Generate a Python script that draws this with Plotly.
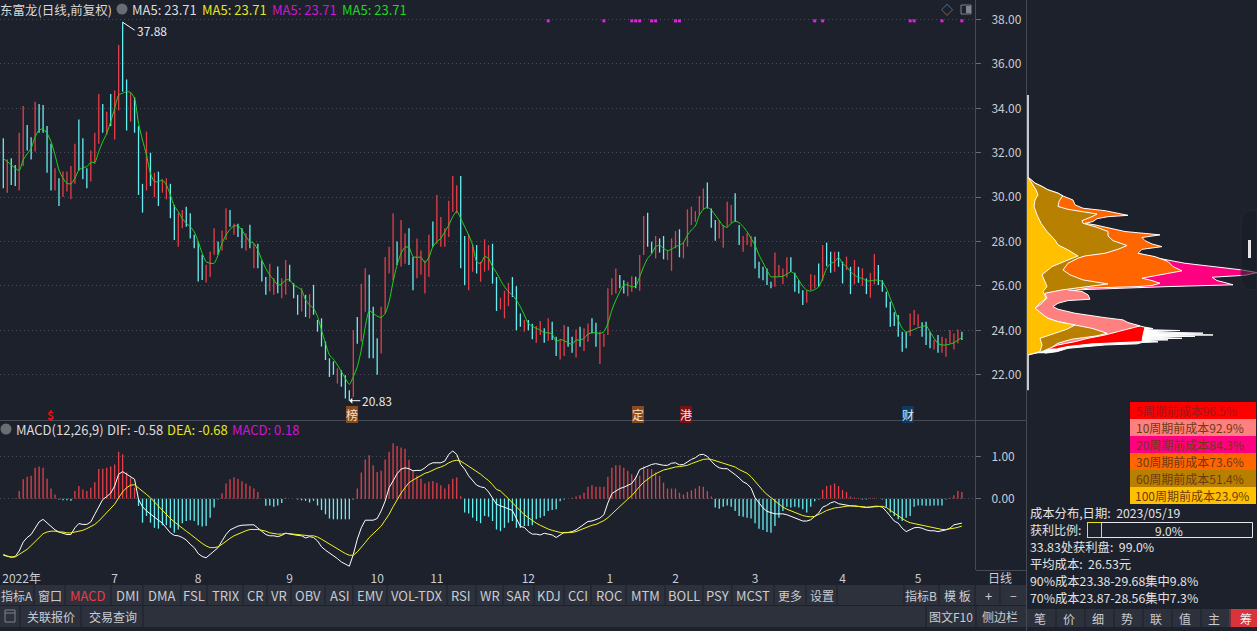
import plotly.graph_objects as go

W = 1257
H = 631
BG = '#1c212c'
BAR = '#2d313c'
RED = '#e63e48'
CYAN = '#66eef0'
GREY = '#c9ccd2'
FONT = 'Noto Sans CJK SC'

# daily bars
highs = [32.65, 31.7, 31.75, 31.45, 32.9, 34.1, 33.25, 32.7, 34.3, 34.2,
         34.15, 33.2, 32.4, 31.3, 30.85, 31.15, 31.15, 31.4, 32.4, 33.5,
         32.65, 31.3, 32.1, 32.9, 34.65, 34.2, 33.85, 34.65, 34.8, 36.85,
         37.88, 35.3, 34.7, 34.5, 33.2, 30.6, 32.95, 32, 31.1, 31.15,
         30.8, 30.85, 30.6, 29.65, 29.27, 29.42, 29.57, 29.27, 28.3, 28,
         27.4, 26.95, 27.55, 28.6, 28, 28.5, 29.5, 29.42, 28.8, 28.8,
         28.6, 28.37, 28.75, 27.9, 27.9, 27.15, 26.4, 27, 26.35, 26.87,
         26.35, 27.17, 26.95, 26.12, 25.6, 25.9, 25.6, 25.63, 26.05, 24.47,
         24.54, 23.5, 22.74, 22.6, 22.29, 22.2, 21.98, 21.3, 24, 24.6,
         26.1, 26.8, 26.5, 25.06, 23.64, 25.06, 27.3, 27.77, 29.27, 28,
         28.97, 28.37, 28.6, 27.3, 28.14, 27.6, 27.15, 28.3, 28.9, 30.1,
         29.1, 28.6, 29.84, 30.95, 30.54, 30.95, 28.25, 28.3, 27.84, 27.84,
         27.09, 28.1, 27.84, 27.9, 26.4, 25.47, 25.78, 26.14, 26.4, 25.99,
         24.76, 24.46, 24.46, 24.3, 24.19, 24.42, 24.09, 24.54, 24.39, 23.71,
         23.56, 24.24, 24.16, 23.71, 24.04, 24.16, 24.09, 24.31, 24.54, 24.34,
         23.94, 23.86, 25.89, 26.34, 26.79, 26.49, 26.26, 26.19, 26.44, 26.41,
         27.39, 29.15, 29.3, 27.99, 28.25, 28.14, 28.25, 27.62, 28.14, 28.47,
         28.55, 27.99, 29.45, 29.57, 29.37, 30.05, 30.39, 30.66, 29.49, 28.97,
         28.97, 28.74, 29.79, 29.64, 30.17, 28.74, 28.25, 28.37, 28.25, 28.22,
         27.09, 26.86, 26.79, 26.19, 27.5, 26.94, 26.79, 27.29, 27.29, 26.59,
         26.26, 25.81, 25.81, 26.53, 26.49, 27.01, 27.84, 27.95, 27.54, 27.54,
         27.54, 27.09, 27.32, 26.86, 27.17, 26.86, 26.79, 26.34, 26.59, 27.44,
         26.94, 26.26, 25.74, 25.29, 24.81, 24.69, 23.94, 23.94, 24.76, 24.91,
         24.72, 24.36, 24.39, 23.94, 23.56, 23.79, 23.71, 23.64, 24.01, 23.86,
         24.04, 23.94]
lows = [30.4, 30.2, 30.55, 30.5, 30.3, 31.4, 32.1, 31.7, 32.05, 32.9,
        32.9, 31.1, 30.3, 30.3, 29.6, 30, 30.25, 29.9, 30.6, 31.2,
        30.8, 30.4, 30.7, 31.5, 32.4, 32.9, 32.8, 33.2, 32.6, 33.9,
        34.75, 33, 33.4, 32.9, 30.1, 29.3, 30.3, 30.5, 30, 29.6,
        30.2, 29.9, 29.05, 28.07, 27.77, 28.6, 28.67, 28.14, 27.7, 26.2,
        26.27, 26.15, 26.4, 27.4, 27.4, 27.6, 28.07, 28.67, 28.3, 28.2,
        27.7, 27.6, 27.7, 26.8, 26.8, 26.2, 25.6, 25.75, 25.6, 25.67,
        25.45, 25.6, 26.2, 25.45, 24.7, 24.85, 24.6, 24.53, 24.7, 23.94,
        23.27, 22.66, 21.9, 22, 21.6, 21.46, 20.93, 20.83, 21, 23.4,
        23.5, 24.84, 22.74, 22.74, 22, 22.96, 24.76, 26.56, 26.26, 26.94,
        26.87, 27, 26.94, 25.8, 26.34, 26.5, 25.66, 26.4, 27.77, 27.9,
        27.77, 27.77, 28.2, 29.34, 29.27, 26.8, 26.04, 25.8, 26.64, 26.56,
        26.19, 26.64, 26.7, 26.1, 24.87, 24.94, 24.54, 25.09, 25.5, 24,
        24.16, 23.94, 24, 23.6, 23.44, 23.79, 23.44, 23.53, 23.56, 22.84,
        22.69, 22.84, 23.26, 22.99, 22.78, 23.26, 23.07, 23.49, 23.86, 23.26,
        22.48, 23.26, 23.79, 25.59, 25.66, 25.89, 25.66, 25.54, 25.74, 25.89,
        25.78, 27.39, 27.77, 27.47, 27.24, 27.5, 27.2, 27.17, 26.68, 27.69,
        27.29, 27.24, 27.77, 28.74, 28.89, 29.19, 29.42, 29.49, 28.62, 28.04,
        28.14, 27.72, 28.67, 28.85, 28.89, 27.84, 27.54, 27.84, 27.77, 26.79,
        26.34, 26.26, 26.04, 25.89, 25.96, 26.41, 26.08, 26.38, 26.64, 25.74,
        25.66, 25.14, 25.24, 25.81, 25.89, 25.96, 26.23, 26.89, 26.59, 26.64,
        26.86, 26.11, 26.71, 25.63, 26.07, 26.14, 25.99, 25.63, 25.47, 26.07,
        26.04, 25.74, 25.03, 24.16, 24.19, 23.71, 23.04, 23.19, 23.74, 24.24,
        24.16, 23.71, 23.34, 23.19, 23.14, 22.99, 22.99, 22.81, 23.41, 23.14,
        23.41, 23.56]
up = [0, 1, 0, 0, 1, 1, 0, 0, 1, 0,
      0, 0, 0, 1, 0, 1, 1, 1, 1, 0,
      0, 0, 1, 1, 1, 0, 1, 0, 1, 1,
      0, 0, 1, 0, 0, 0, 1, 0, 1, 0,
      1, 1, 0, 0, 1, 1, 0, 0, 0, 0,
      0, 1, 1, 1, 0, 1, 1, 0, 1, 0,
      0, 1, 0, 1, 0, 0, 0, 1, 1, 0,
      1, 1, 0, 0, 0, 1, 0, 1, 0, 0,
      0, 0, 0, 0, 1, 0, 0, 0, 1, 0,
      1, 1, 0, 0, 0, 1, 1, 1, 1, 0,
      1, 1, 0, 0, 1, 1, 1, 1, 0, 1,
      1, 1, 1, 1, 1, 0, 0, 1, 1, 0,
      1, 1, 1, 0, 0, 1, 1, 1, 0, 0,
      0, 1, 0, 0, 1, 1, 0, 1, 0, 0,
      1, 1, 0, 0, 1, 0, 1, 1, 0, 0,
      1, 1, 1, 1, 1, 0, 0, 1, 1, 0,
      1, 1, 0, 0, 1, 0, 0, 1, 1, 1,
      0, 1, 1, 1, 1, 1, 1, 0, 0, 0,
      1, 1, 1, 1, 0, 0, 1, 1, 1, 0,
      0, 0, 0, 0, 1, 1, 1, 1, 0, 0,
      0, 0, 1, 1, 1, 0, 1, 0, 0, 1,
      0, 0, 1, 0, 1, 0, 1, 0, 1, 1,
      0, 0, 0, 0, 0, 0, 0, 0, 1, 1,
      1, 0, 0, 0, 1, 0, 1, 1, 1, 1,
      1, 0]
ma5 = [31.75, 31.6, 31.45, 31.3, 31.2, 31.67, 31.95, 32.2, 32.72, 33.02,
       33.07, 32.87, 32.5, 31.9, 31.22, 30.85, 30.62, 30.6, 30.85, 31.22,
       31.33, 31.37, 31.57, 31.57, 32.05, 32.5, 32.87, 33.4, 34, 34.6,
       34.68, 34.75, 34.72, 34.45, 33.32, 32.57, 31.9, 31.07, 30.7, 30.7,
       30.77, 30.55, 30.1, 29.6, 29.34, 29.04, 28.82, 28.67, 28.44, 28,
       27.47, 27.09, 27.02, 27.02, 27.39, 27.92, 28.29, 28.55, 28.7, 28.7,
       28.52, 28.22, 28, 27.92, 27.62, 27.17, 26.79, 26.49, 26.27, 26.04,
       26.09, 26.27, 26.27, 26.04, 25.94, 25.82, 25.37, 25.14, 24.99, 24.62,
       24.01, 23.41, 22.89, 22.7, 22.44, 22.14, 21.83, 21.56, 21.91, 22.36,
       23.11, 24.16, 24.88, 24.76, 24.64, 24.58, 24.76, 25.29, 26.19, 26.94,
       27.47, 27.74, 27.74, 27.32, 27.29, 27.29, 27.05, 27.29, 27.77, 27.99,
       28.14, 28.44, 28.74, 29.12, 29.37, 29.04, 28.67, 28.29, 27.84, 27.09,
       27.01, 27.32, 27.24, 26.87, 26.6, 26.26, 25.96, 25.74, 25.59, 25.36,
       25.06, 24.69, 24.31, 24.19, 24.09, 24.01, 23.89, 23.89, 23.83, 23.49,
       23.59, 23.53, 23.44, 23.37, 23.56, 23.56, 23.64, 23.83, 23.89, 23.89,
       23.86, 23.94, 24.31, 24.91, 25.36, 25.74, 26.04, 26.04, 25.96, 25.99,
       26.41, 26.87, 27.24, 27.45, 27.77, 27.84, 27.69, 27.59, 27.65, 27.77,
       27.84, 27.95, 28.29, 28.52, 28.7, 29.19, 29.45, 29.54, 29.42, 29.19,
       28.94, 28.7, 28.64, 28.82, 28.92, 28.85, 28.67, 28.44, 28.14, 27.84,
       27.39, 27.05, 26.71, 26.41, 26.41, 26.41, 26.44, 26.53, 26.64, 26.53,
       26.26, 25.99, 25.81, 25.77, 25.84, 25.96, 26.34, 26.79, 27.01, 27.09,
       27.29, 27.01, 26.87, 26.64, 26.49, 26.38, 26.34, 26.23, 26.23, 26.26,
       26.26, 26.19, 25.89, 25.44, 24.99, 24.46, 24.09, 23.91, 23.97, 24.04,
       24.12, 24.16, 24.21, 23.94, 23.64, 23.41, 23.34, 23.34, 23.38, 23.44,
       23.56, 23.68]

# MACD panel
macd = [0, 0, 0, 0.01, 0.18, 0.46, 0.52, 0.54, 0.73, 0.76,
        0.73, 0.47, 0.24, 0.1, -0.02, -0.04, -0.04, -0.05, 0.18, 0.3,
        0.22, 0.18, 0.26, 0.39, 0.7, 0.71, 0.73, 0.76, 0.81, 1.11,
        1.05, 0.62, 0.5, 0.26, -0.17, -0.57, -0.41, -0.57, -0.69, -0.71,
        -0.63, -0.63, -0.69, -0.81, -0.73, -0.58, -0.53, -0.51, -0.53, -0.63,
        -0.66, -0.65, -0.45, -0.21, -0.02, 0.13, 0.36, 0.46, 0.51, 0.47,
        0.41, 0.36, 0.3, 0.24, 0.16, 0, -0.17, -0.16, -0.19, -0.16,
        -0.1, 0.02, 0, 0, -0.02, -0.04, -0.05, -0.09, -0.05, -0.16,
        -0.27, -0.37, -0.47, -0.49, -0.49, -0.49, -0.49, -0.49, -0.02, 0.24,
        0.62, 0.93, 1.03, 0.79, 0.63, 0.66, 0.93, 1.11, 1.31, 1.25,
        1.21, 1.18, 0.92, 0.66, 0.55, 0.47, 0.36, 0.4, 0.42, 0.38,
        0.32, 0.24, 0.34, 0.47, 0.5, 0.06, -0.33, -0.35, -0.45, -0.53,
        -0.58, -0.41, -0.43, -0.53, -0.73, -0.77, -0.69, -0.57, -0.53, -0.69,
        -0.69, -0.65, -0.65, -0.63, -0.49, -0.45, -0.41, -0.29, -0.27, -0.25,
        -0.06, -0.02, 0, 0.02, 0.05, 0.08, 0.14, 0.28, 0.32, 0.28,
        0.28, 0.28, 0.52, 0.73, 0.79, 0.79, 0.73, 0.66, 0.58, 0.52,
        0.54, 0.77, 0.71, 0.7, 0.62, 0.54, 0.38, 0.24, 0.24, 0.24,
        0.14, 0.1, 0.16, 0.2, 0.24, 0.3, 0.28, 0.18, 0.05, -0.21,
        -0.24, -0.19, -0.16, -0.19, -0.29, -0.41, -0.43, -0.45, -0.47, -0.58,
        -0.71, -0.74, -0.79, -0.81, -0.65, -0.45, -0.29, -0.19, -0.21, -0.19,
        -0.21, -0.25, -0.33, -0.19, -0.06, -0.02, 0.21, 0.3, 0.32, 0.36,
        0.3, 0.21, 0.16, 0.05, 0.03, 0.02, -0.02, -0.02, 0.02, 0.02,
        0, -0.02, -0.21, -0.33, -0.41, -0.49, -0.53, -0.45, -0.41, -0.19,
        -0.16, -0.16, -0.17, -0.17, -0.16, -0.16, -0.16, -0.02, 0.02, 0.08,
        0.18, 0.16]
dif = [-1.34, -1.37, -1.39, -1.37, -1.24, -1.03, -0.92, -0.85, -0.69, -0.55,
       -0.49, -0.57, -0.65, -0.74, -0.79, -0.82, -0.85, -0.85, -0.69, -0.59,
       -0.61, -0.61, -0.55, -0.37, -0.19, -0.02, 0.05, 0.13, 0.3, 0.58,
       0.64, 0.58, 0.54, 0.46, -0.02, -0.19, -0.29, -0.37, -0.45, -0.51,
       -0.58, -0.69, -0.81, -0.87, -0.88, -0.92, -0.98, -1.08, -1.16, -1.3,
       -1.37, -1.4, -1.32, -1.24, -1.16, -1.0, -0.85, -0.74, -0.69, -0.65,
       -0.63, -0.62, -0.62, -0.62, -0.7, -0.79, -0.85, -0.88, -0.88, -0.9,
       -0.87, -0.82, -0.84, -0.85, -0.87, -0.88, -0.93, -0.9, -0.92, -1.0,
       -1.14, -1.22, -1.28, -1.34, -1.42, -1.5, -1.55, -1.6, -1.32, -0.96,
       -0.69, -0.51, -0.51, -0.51, -0.47, -0.29, -0.06, 0.26, 0.42, 0.59,
       0.7, 0.73, 0.71, 0.66, 0.67, 0.67, 0.73, 0.81, 0.85, 0.85,
       0.85, 0.89, 1.05, 1.13, 1.05, 0.81, 0.7, 0.54, 0.44, 0.32,
       0.28, 0.26, 0.16, 0.02, -0.13, -0.17, -0.2, -0.24, -0.28, -0.46,
       -0.66, -0.68, -0.78, -0.84, -0.84, -0.86, -0.82, -0.84, -0.86, -0.92,
       -0.86, -0.8, -0.8, -0.78, -0.74, -0.68, -0.6, -0.54, -0.53, -0.5,
       -0.46, -0.38, -0.1, 0.12, 0.19, 0.24, 0.27, 0.31, 0.36, 0.49,
       0.69, 0.73, 0.77, 0.81, 0.83, 0.81, 0.79, 0.79, 0.84, 0.85,
       0.8, 0.81, 0.88, 0.93, 0.97, 1.04, 1.05, 1.0, 0.89, 0.79,
       0.73, 0.71, 0.71, 0.65, 0.57, 0.49, 0.4, 0.35, 0.25, 0.02,
       -0.1, -0.22, -0.3, -0.33, -0.36, -0.36, -0.36, -0.38, -0.42, -0.46,
       -0.5, -0.53, -0.53, -0.5, -0.42, -0.34, -0.2, -0.16, -0.1, -0.07,
       -0.12, -0.14, -0.16, -0.17, -0.17, -0.18, -0.2, -0.21, -0.2, -0.18,
       -0.18, -0.2, -0.3, -0.42, -0.53, -0.58, -0.7, -0.78, -0.73, -0.69,
       -0.68, -0.7, -0.74, -0.76, -0.76, -0.78, -0.76, -0.74, -0.7, -0.62,
       -0.6, -0.58]
dea = [-1.32, -1.36, -1.38, -1.38, -1.32, -1.26, -1.2, -1.11, -1.02, -0.92,
       -0.83, -0.79, -0.77, -0.77, -0.79, -0.79, -0.81, -0.81, -0.79, -0.78,
       -0.75, -0.71, -0.66, -0.61, -0.53, -0.43, -0.33, -0.24, -0.13, 0.02,
       0.16, 0.26, 0.32, 0.33, 0.26, 0.18, 0.1, 0.02, -0.08, -0.16,
       -0.27, -0.37, -0.47, -0.55, -0.63, -0.71, -0.77, -0.84, -0.92, -0.99,
       -1.06, -1.12, -1.16, -1.16, -1.14, -1.08, -1.0, -0.94, -0.88, -0.84,
       -0.79, -0.76, -0.73, -0.73, -0.73, -0.75, -0.77, -0.81, -0.83, -0.84,
       -0.84, -0.82, -0.83, -0.84, -0.85, -0.86, -0.88, -0.88, -0.88, -0.91,
       -0.96, -1.02, -1.08, -1.14, -1.2, -1.26, -1.3, -1.34, -1.34, -1.26,
       -1.16, -1.04, -0.92, -0.83, -0.75, -0.65, -0.51, -0.37, -0.19, -0.02,
       0.13, 0.26, 0.38, 0.44, 0.5, 0.55, 0.6, 0.63, 0.68, 0.72,
       0.75, 0.79, 0.85, 0.89, 0.91, 0.89, 0.83, 0.77, 0.71, 0.66,
       0.58, 0.5, 0.43, 0.33, 0.22, 0.18, 0.1, 0, -0.1, -0.2,
       -0.3, -0.38, -0.45, -0.52, -0.58, -0.63, -0.68, -0.72, -0.75, -0.78,
       -0.8, -0.81, -0.81, -0.8, -0.78, -0.74, -0.7, -0.66, -0.63, -0.61,
       -0.57, -0.52, -0.45, -0.36, -0.26, -0.17, -0.09, -0.01, 0.07, 0.19,
       0.29, 0.39, 0.47, 0.53, 0.59, 0.64, 0.68, 0.7, 0.73, 0.75,
       0.76, 0.77, 0.79, 0.83, 0.87, 0.9, 0.93, 0.94, 0.93, 0.9,
       0.87, 0.84, 0.81, 0.79, 0.75, 0.69, 0.65, 0.6, 0.52, 0.41,
       0.29, 0.19, 0.1, 0.02, -0.06, -0.14, -0.2, -0.25, -0.29, -0.33,
       -0.37, -0.4, -0.42, -0.43, -0.42, -0.38, -0.33, -0.28, -0.25, -0.22,
       -0.21, -0.19, -0.18, -0.17, -0.18, -0.18, -0.19, -0.2, -0.2, -0.19,
       -0.18, -0.18, -0.21, -0.28, -0.34, -0.41, -0.47, -0.53, -0.57, -0.59,
       -0.61, -0.63, -0.66, -0.68, -0.7, -0.72, -0.73, -0.73, -0.72, -0.7,
       -0.68, -0.65]

for series in (highs, lows, up, ma5, macd, dif, dea):
    assert len(series) == 242, len(series)

idx = list(range(242))
signal_days = [137, 151, 158, 159, 160, 163, 164, 169, 170, 204, 206, 228, 229, 236, 241]
signal_level = [37.94] * len(signal_days)
month_days = [4.6, 28, 49, 72, 94, 109, 132, 152.5, 169, 189, 211, 230]
month_names = ['2022年', '7', '8', '9', '10', '11', '12', '1', '2', '3', '4', '5']
price_ticks = [22, 24, 26, 28, 30, 32, 34, 36, 38]

# cost distribution, price against chip width
white_p = [24.14, 24.08, 24.03, 23.99, 23.94, 23.87, 23.84, 23.79, 23.76, 23.73, 23.7, 23.64, 23.61, 23.57, 23.54, 23.48, 23.45, 23.39, 23.34, 23.27, 23.19, 23.04, 22.97]
white_w = [118, 126, 118, 153, 120, 176, 121, 186, 121, 168, 121, 155, 120, 141, 118, 131, 115, 110, 78, 58, 41, 30, 18]
red_p = [24.32, 24.14, 23.79, 23.49, 23.39, 23.27, 23.18]
red_w = [101, 118, 116, 115, 65, 41, 31]
pink_p = [25.82, 25.75, 25.6, 25.4, 25.34, 25.22, 25.07, 24.95, 24.77, 24.65, 24.57, 24.47, 24.35, 24.2, 23.94, 23.79, 23.64, 23.49, 23.34, 23.24]
pink_w = [41, 55, 61, 63, 41, 31, 26, 31, 48, 65, 78, 96, 101, 113, 91, 78, 61, 48, 31, 25]
magenta_p = [27.47, 27.25, 27.02, 26.87, 26.72, 26.6, 26.48, 26.39, 26.24, 26.15, 26.05, 25.97, 25.91, 25.87, 25.82]
magenta_w = [111, 131, 158, 188, 215, 230, 218, 185, 190, 198, 206, 141, 98, 65, 48]
orange_p = [30.9, 30.63, 30.48, 30.33, 30.18, 30.05, 29.87, 29.65, 29.5, 29.39, 29.27, 29.18, 29.12, 29.03, 28.9, 28.82, 28.75, 28.64, 28.45, 28.3, 28.18, 28.04, 27.89, 27.77, 27.65, 27.47, 27.32, 27.1, 26.87, 26.68, 26.5, 26.35, 26.24, 26.12, 26.02, 25.97, 25.9, 25.82, 25.75, 25.6, 25.45, 25.3]
orange_w = [1, 8, 15, 21, 31, 36, 46, 48, 56, 78, 91, 101, 81, 70, 66, 58, 68, 78, 98, 133, 115, 118, 125, 135, 115, 111, 128, 141, 146, 155, 131, 115, 125, 133, 125, 111, 61, 48, 41, 31, 21, 18]
brown_p = [30.9, 30.63, 30.48, 30.33, 30.18, 30.05, 30.03, 29.8, 29.58, 29.45, 29.35, 29.24, 29.12, 28.94, 28.82, 28.64, 28.45, 28.25, 28.04, 27.92, 27.82, 27.65, 27.47, 27.35, 27.25, 27.02, 26.72, 26.5, 26.27, 26.09, 25.97, 25.82, 25.67, 25.45, 25.22, 25.0, 24.77, 24.59, 24.39, 24.24, 24.09, 23.87, 23.75, 23.6, 23.42, 23.24, 23.04, 22.89]
brown_w = [1, 8, 15, 21, 31, 36, 35, 32, 31, 41, 55, 70, 65, 55, 56, 70, 81, 81, 86, 93, 100, 91, 78, 58, 51, 41, 36, 43, 56, 81, 61, 35, 18, 20, 15, 8, 13, 18, 31, 48, 65, 80, 70, 45, 31, 25, 15, 1]
gold_p = [30.9, 30.63, 30.33, 30.1, 29.87, 29.58, 29.2, 28.82, 28.45, 28.07, 27.85, 27.62, 27.35, 27.17, 26.87, 26.5, 26.2, 25.97, 25.75, 25.45, 25.22, 25.0, 24.74, 24.54, 24.39, 24.24, 24.05, 23.84, 23.64, 23.34, 23.04, 22.89]
gold_w = [1, 5, 9, 11, 8, 7, 10, 14, 20, 28, 31, 41, 51, 41, 25, 15, 18, 20, 16, 19, 13, 8, 15, 21, 31, 48, 40, 26, 13, 15, 13, 1]
thin_p = [34.6, 31.0, 22.9, 21.3]
thin_w = [1, 1, 1, 1]

legend_rows = ['5周期前成本96.5%', '10周期前成本92.9%', '20周期前成本84.3%',
               '30周期前成本73.6%', '60周期前成本51.4%', '100周期前成本23.9%']
legend_colors = ['#fe0000', '#ff8080', '#ff0080', '#ff6600', '#b88000', '#ffc000']
info_rows = ['成本分布,日期:  2023/05/19', '', '33.83处获利盘:  99.0%', '平均成本:  26.53元',
             '90%成本23.38-29.68集中9.8%', '70%成本23.87-28.56集中7.3%']

tool_names = ['指标A', '窗口', 'MACD', 'DMI', 'DMA', 'FSL', 'TRIX', 'CR', 'VR', 'OBV', 'ASI', 'EMV',
              'VOL-TDX', 'RSI', 'WR', 'SAR', 'KDJ', 'CCI', 'ROC', 'MTM', 'BOLL', 'PSY', 'MCST', '更多',
              '设置', '指标B', '模 板', '+', '−']
tool_centers = [17, 50, 88, 127, 162, 194, 226, 255, 279, 308, 339, 370,
                417, 461, 490, 518, 549, 578, 609, 645, 684, 717, 753, 790,
                822, 921, 957, 988, 1013]
tool_seps = [34, 65, 111, 143, 181, 207, 243, 267, 291, 325, 353, 387, 447, 476, 503, 534, 564,
             591, 626, 665, 703, 732, 774, 806, 837, 904, 939, 975, 1000]
side_tabs = ['笔', '价', '细', '势', '联', '值', '主', '筹']

annotations = []
shapes = []


def px(x):
    return x / W


def py(y):
    return 1 - y / H


def label(x, y, text, color=GREY, size=12, anchor='left', **kwargs):
    annotations.append(dict(xref='paper', yref='paper', x=px(x), y=py(y), text=text, showarrow=False,
                            xanchor=anchor, yanchor='middle', borderpad=0, borderwidth=0,
                            font=dict(family=FONT, size=size, color=color), **kwargs))


def box(x0, y0, x1, y1, fill=None, line=None, layer='below'):
    shapes.append(dict(type='rect', xref='paper', yref='paper', x0=px(x0), x1=px(x1), y0=py(y0), y1=py(y1),
                       fillcolor=fill if fill else 'rgba(0,0,0,0)',
                       line=dict(color=line if line else 'rgba(0,0,0,0)', width=1), layer=layer))


def rule(x0, y0, x1, y1, color='#454a55'):
    shapes.append(dict(type='line', xref='paper', yref='paper', x0=px(x0), x1=px(x1), y0=py(y0), y1=py(y1),
                       line=dict(color=color, width=1), layer='below'))


def sticks(days, tops, bottoms):
    # one thin vertical stroke per day, broken by gaps
    xs, ys = [], []
    for d, t, b in zip(days, tops, bottoms):
        xs += [d, d, None]
        ys += [b, t, None]
    return xs, ys


fig = go.Figure()

# main price panel
for flag, color in [(1, RED), (0, CYAN)]:
    picked = [i for i in idx if up[i] == flag]
    xs, ys = sticks(picked, [highs[i] for i in picked], [lows[i] for i in picked])
    fig.add_trace(go.Scatter(x=xs, y=ys, mode='lines', line=dict(color=color, width=1.3), xaxis='x', yaxis='y'))
fig.add_trace(go.Scatter(x=idx, y=ma5, mode='lines', line=dict(color='#1fd81f', width=1, shape='spline', smoothing=0.6),
                         xaxis='x', yaxis='y'))
fig.add_trace(go.Scatter(x=signal_days, y=signal_level, mode='markers',
                         marker=dict(symbol='square', size=3, color='#e81ee8', line=dict(width=0)),
                         xaxis='x', yaxis='y'))

# macd panel
for color, picked in [(RED, [i for i in idx if macd[i] > 0]), (CYAN, [i for i in idx if macd[i] <= 0])]:
    xs, ys = sticks(picked, [macd[i] for i in picked], [0] * len(picked))
    fig.add_trace(go.Scatter(x=xs, y=ys, mode='lines', line=dict(color=color, width=1.3), xaxis='x2', yaxis='y2'))
fig.add_trace(go.Scatter(x=idx, y=dif, mode='lines', line=dict(color='#ffffff', width=1), xaxis='x2', yaxis='y2'))
fig.add_trace(go.Scatter(x=idx, y=dea, mode='lines', line=dict(color='#f4f41e', width=1), xaxis='x2', yaxis='y2'))

# chip layers, outermost first so the inner ones sit on top
fig.add_trace(go.Scatter(x=thin_w, y=thin_p, mode='lines', line=dict(color='#ffffff', width=1.5), xaxis='x3', yaxis='y3'))
layers = [(white_w, white_p, '#ffffff'), (red_w, red_p, legend_colors[0]), (magenta_w, magenta_p, legend_colors[2]),
          (orange_w, orange_p, legend_colors[3]), (pink_w, pink_p, legend_colors[1]),
          (brown_w, brown_p, legend_colors[4]), (gold_w, gold_p, legend_colors[5])]
for w, p, color in layers:
    fig.add_trace(go.Scatter(x=w, y=p, mode='lines', fill='tozerox', fillcolor=color,
                             line=dict(color='#ffffff', width=1), xaxis='x3', yaxis='y3'))

# high and low flags
flag_font = dict(family=FONT, size=12, color='#e8e8e8')
annotations.append(dict(xref='x', yref='y', x=30, y=37.88, text='37.88', showarrow=True, arrowhead=0, arrowwidth=1,
                        arrowcolor='#ffffff', ax=12, ay=8, xanchor='left', font=flag_font))
annotations.append(dict(xref='x', yref='y', x=87, y=20.83, text='20.83', showarrow=True, arrowhead=1, arrowwidth=1,
                        arrowcolor='#ffffff', ax=11, ay=0, xanchor='left', font=flag_font))

# headers
label(0, 9, '东富龙(日线,前复权)', '#d8d8d8', size=12.5)
label(132, 9, 'MA5: 23.71', '#dcdcdc', size=13)
label(202, 9, 'MA5: 23.71', '#e6e61e', size=13)
label(272, 9, 'MA5: 23.71', '#d214d2', size=13)
label(342, 9, 'MA5: 23.71', '#1fd81f', size=13)
label(16, 429, 'MACD(12,26,9)', '#dcdcdc', size=13)
label(107, 429, 'DIF: -0.58', '#dcdcdc', size=13)
label(167, 429, 'DEA: -0.68', '#e6e61e', size=13)
label(232, 429, 'MACD: 0.18', '#d214d2', size=13)
for cx, cy in [(122, 9), (6, 429)]:
    shapes.append(dict(type='circle', xref='paper', yref='paper', x0=px(cx - 5.5), x1=px(cx + 5.5),
                       y0=py(cy + 5.5), y1=py(cy - 5.5), fillcolor='#6a6d74', line=dict(width=0), layer='below'))
label(947, 9, '◇', '#80838a', size=12, anchor='center')
box(961, 5, 971, 14, None, '#80838a')
box(966, 6, 971, 13, '#80838a')

# event tags on the bottom of the price panel
label(50, 414, '<b>$</b>', '#e81010', size=12, anchor='center')
label(352, 414, '榜', '#f0e0c8', anchor='center', bgcolor='#8a4a20')
label(638, 414, '定', '#f0e0c8', anchor='center', bgcolor='#8a4a20')
label(686, 414, '港', '#f0e0e0', anchor='center', bgcolor='#7a1010')
label(908, 414, '财', '#e0ecf8', anchor='center', bgcolor='#103a60')

# panel frame
rule(0, 420.5, 1026, 420.5)
rule(975.5, 0, 975.5, 570)
rule(1026.5, 0, 1026.5, 631)
rule(976, 570.5, 1026, 570.5)
label(1000, 577, '日线', anchor='center')

# toolbar rows
box(0, 585, 1026, 605, BAR)
box(0, 606, 1026, 627, BAR)
for x in tool_seps:
    rule(x, 585, x, 605, BG)
for name, x in zip(tool_names, tool_centers):
    label(x, 595, name, RED if name == 'MACD' else GREY, size=13 if name.isascii() else 12, anchor='center')
box(5, 610, 15, 622, None, '#80838a')
rule(5, 613, 15, 613, '#80838a')
for x in [20, 81, 143, 926, 976]:
    rule(x, 606, x, 627, BG)
label(51, 616, '关联报价', anchor='center')
label(113, 616, '交易查询', anchor='center')
label(951, 616, '图文F10', anchor='center')
label(1000, 616, '侧边栏', anchor='center')

# cost legend and info block
for i, (name, color) in enumerate(zip(legend_rows, legend_colors)):
    box(1130, 402 + 17 * i, 1256, 419 + 17 * i, color)
    label(1136 if i < 5 else 1135, 410.5 + 17 * i, name, '#6e3a10' if i > 0 else '#a01818')
for i, text in enumerate(info_rows):
    if text:
        label(1030, 513 + 16.9 * i, text, '#e2e2e2', size=12.3)
label(1030, 529.5, '获利比例:', '#e2e2e2')
box(1087.5, 522.5, 1252.5, 537.5, None, '#e8e8e8')
box(1087.5, 522.5, 1101.5, 537.5, None, '#e6e61e')
label(1169, 530, '9.0%', '#e2e2e2', anchor='center')

# side tabs
box(1027, 609, 1257, 627, BAR)
box(1229, 609, 1257, 627, '#d9333c')
for i, name in enumerate(side_tabs):
    if i:
        rule(1027 + 29 * i, 609, 1027 + 29 * i, 627, BG)
    label(1040 + 29 * i + (3 if i == 7 else 0), 618, name, '#f0f0f0' if i == 7 else GREY, anchor='center')

# scroll handle over the chip panel
hx0, hx1, hy0, hy1 = px(1241), px(1257), py(210), py(290)
shapes.append(dict(type='path', xref='paper', yref='paper', fillcolor='#1a1d26', opacity=0.6, line=dict(color='#2b2f38', width=1),
                   path=f'M {hx1} {hy0} L {px(1252)} {hy0} Q {hx0} {hy0} {hx0} {py(222)} L {hx0} {py(278)} '
                        f'Q {hx0} {hy1} {px(1252)} {hy1} L {hx1} {hy1} Z', layer='above'))
box(1248, 240, 1251, 258, '#e6e6e6', None, layer='above')

axis_font = dict(family=FONT, size=12, color=GREY)
grid = dict(showgrid=True, gridcolor='#4a4f5a', griddash='1px,3px', gridwidth=1, zeroline=False, showline=False)
fig.update_layout(
    width=W, height=H, autosize=False, showlegend=False,
    margin=dict(l=0, r=0, t=0, b=0), paper_bgcolor=BG, plot_bgcolor=BG,
    annotations=annotations, shapes=shapes,
    xaxis=dict(domain=[0, px(975)], range=[-0.83, 244.3], showgrid=False, showticklabels=False, ticks='', zeroline=False, anchor='y'),
    yaxis=dict(domain=[py(420), 1], range=[19.96, 38.88], side='right', anchor='x', tickvals=price_ticks, tickformat='.2f',
               tickfont=axis_font, ticks='outside', ticklen=5, tickcolor='#6a6d74', ticklabelstandoff=8, **grid),
    xaxis2=dict(domain=[0, px(975)], range=[-0.83, 244.3], anchor='y2', tickvals=month_days, ticktext=month_names,
                tickfont=axis_font, ticks='', showgrid=False, zeroline=False, showline=False),
    yaxis2=dict(domain=[py(570), py(421)], range=[-1.69, 1.84], side='right', anchor='x2', tickvals=[0, 1], tickformat='.2f',
                tickfont=axis_font, ticks='outside', ticklen=5, tickcolor='#6a6d74', ticklabelstandoff=8, **grid),
    xaxis3=dict(domain=[px(1027), 1], range=[0, 230], anchor='y3', visible=False),
    yaxis3=dict(domain=[py(420), 1], range=[19.96, 38.88], anchor='x3', visible=False),
)

# drop the browser's default page margin so the figure fills the window
fig.write_html("out.html", config={'displayModeBar': False}, post_script="document.body.style.margin='0';")
